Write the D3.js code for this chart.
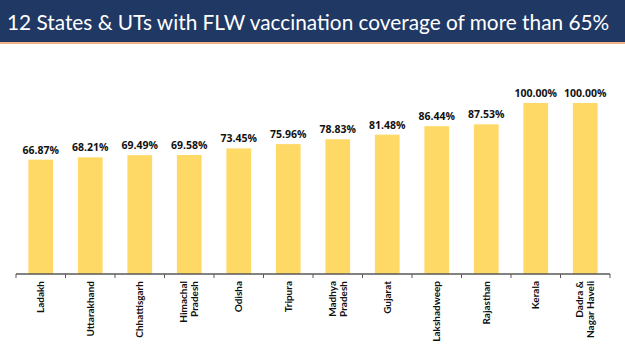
<!DOCTYPE html>
<html>
<head>
<meta charset="utf-8">
<script src="https://cdn.jsdelivr.net/npm/d3@7"></script>
<style>
  body { margin: 0; background: #fff; }
</style>
</head>
<body>
<div id="chart"></div>
<script>
// Chart data
var states = ["Ladakh", "Uttarakhand", "Chhattisgarh", "Himachal\nPradesh", "Odisha", "Tripura",
  "Madhya\nPradesh", "Gujarat", "Lakshadweep", "Rajasthan", "Kerala", "Dadra &\nNagar Haveli"];
var coverage = [66.87, 68.21, 69.49, 69.58, 73.45, 75.96, 78.83, 81.48, 86.44, 87.53, 100.00, 100.00];
var title = "12 States & UTs with FLW vaccination coverage of more than 65%";

var W = 625, H = 351;
var margin = { top: 103, right: 15, bottom: 77, left: 16 },
    width = W - margin.left - margin.right,
    height = H - margin.top - margin.bottom;

var svg = d3.select('#chart').append('svg')
    .attr('width', W)
    .attr('height', H);

// Title bar
svg.append('rect')
    .attr('x', 0).attr('y', 0)
    .attr('width', W).attr('height', 42)
    .attr('fill', '#1f3864');
svg.append('rect')
    .attr('x', 0).attr('y', 42)
    .attr('width', W).attr('height', 2)
    .attr('fill', '#f4b183');
svg.append('text')
    .attr('x', 7).attr('y', 30)
    .style('font', 'normal 20.8px Lato')
    .attr('fill', '#fff')
    .text(title);

var g = svg.append('g')
    .attr('transform', 'translate(' + margin.left + ',' + margin.top + ')');

var x = d3.scaleBand().domain(states).range([0, width])
    .paddingInner(0.5).paddingOuter(0.25);
var y = d3.scaleLinear().domain([0, 100]).range([height, 0]);

// Bars
g.selectAll('.bar')
    .data(coverage)
    .enter().append('rect')
    .attr('class', 'bar')
    .attr('x', function (d, i) { return x(states[i]); })
    .attr('y', function (d) { return y(d); })
    .attr('width', x.bandwidth())
    .attr('height', function (d) { return height - y(d); })
    .attr('fill', '#ffd966');

// Value labels
g.selectAll('.val')
    .data(coverage)
    .enter().append('text')
    .attr('class', 'val')
    .attr('x', function (d, i) { return x(states[i]) + x.bandwidth() / 2; })
    .attr('y', function (d) { return y(d) - 6; })
    .attr('text-anchor', 'middle')
    .style('font', 'bold 10.5px "Open Sans"')
    .attr('fill', '#111')
    .text(function (d) { return d.toFixed(2) + '%'; });

// Axis line with ticks at band edges
g.append('line')
    .attr('x1', 0).attr('x2', width)
    .attr('y1', height).attr('y2', height)
    .attr('stroke', '#595959').attr('stroke-width', 1.5);
var edges = states.map(function (s) { return x(s) - x.step() * x.paddingOuter(); }).concat([width]);
g.selectAll('.tick')
    .data(edges)
    .enter().append('line')
    .attr('x1', function (d) { return d; }).attr('x2', function (d) { return d; })
    .attr('y1', height).attr('y2', height + 4)
    .attr('stroke', '#595959').attr('stroke-width', 1);

// Category labels, rotated
var lab = g.selectAll('.cat')
    .data(states)
    .enter().append('text')
    .attr('class', 'cat')
    .attr('transform', function (d) {
        return 'translate(' + (x(d) + x.bandwidth() / 2) + ',' + (height + 7) + ') rotate(-90)';
    })
    .attr('text-anchor', 'end')
    .style('font', 'bold 10px Lato')
    .attr('fill', '#111');
lab.each(function (d) {
    var lines = d.split('\n');
    var t = d3.select(this);
    lines.forEach(function (l, i) {
        t.append('tspan')
            .attr('x', 0)
            .attr('y', (i - (lines.length - 1) / 2) * 11 + 3.5)
            .text(l);
    });
});
</script>
</body>
</html>
